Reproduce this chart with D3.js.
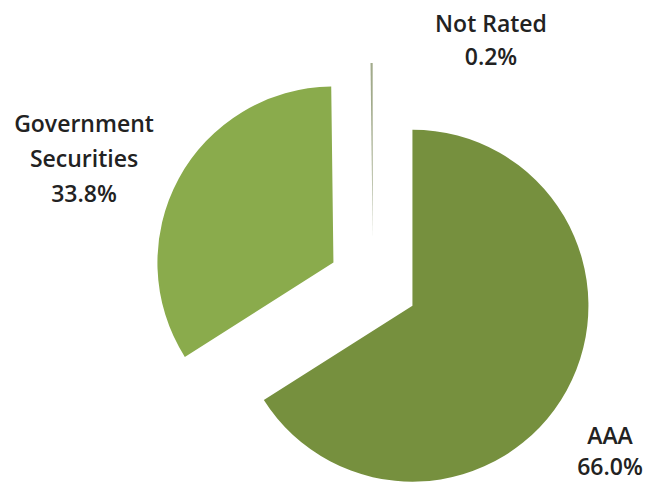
<!DOCTYPE html>
<html>
<head>
<meta charset="utf-8">
<script src="https://cdn.jsdelivr.net/npm/d3@7"></script>
<style>
  html, body { margin: 0; padding: 0; background: #fff; }
  svg { display: block; }
  text { font-family: "Open Sans", "Liberation Sans", sans-serif; fill: #222; }
</style>
</head>
<body>
<svg id="chart" width="648" height="482"></svg>
<script>
// Credit quality breakdown
const categories = ["AAA", "Government Securities", "Not Rated"];
const shares = [66.0, 33.8, 0.2];
const labelLines = [["AAA", "66.0%"], ["Government", "Securities", "33.8%"], ["Not Rated", "0.2%"]];
const colors = ["#76903e", "#8aab4c", "#a2ab8c"];

const width = 648, height = 482;
const cx = 373, cy = 284, radius = 176, explode = 45;

const svg = d3.select("#chart");
const g = svg.append("g").attr("transform", `translate(${cx},${cy})`);

const pie = d3.pie().sort(null).value(d => d.value).startAngle(0).endAngle(2 * Math.PI);
const arc = d3.arc().innerRadius(0).outerRadius(radius);

const data = categories.map((c, i) => ({ name: c, value: shares[i], lines: labelLines[i], color: colors[i] }));
const arcs = pie(data);

// each slice pulled out along its bisector
function offset(d, dist) {
  const a = (d.startAngle + d.endAngle) / 2;
  return [Math.sin(a) * dist, -Math.cos(a) * dist];
}

g.selectAll("path.slice")
  .data(arcs)
  .join("path")
  .attr("class", "slice")
  .attr("d", arc)
  .attr("fill", d => d.data.color)
  .attr("transform", d => {
    const [x, y] = offset(d, explode);
    return `translate(${x},${y})`;
  });

// label anchor points (centre x, first baseline y) in page coordinates
const labelPos = {
  "AAA": [610, 444],
  "Government Securities": [84, 132],
  "Not Rated": [491, 32]
};
const lineStep = { "AAA": 31, "Government Securities": 35, "Not Rated": 33 };

const labels = svg.selectAll("text.lbl")
  .data(data)
  .join("text")
  .attr("class", "lbl")
  .attr("text-anchor", "middle")
  .attr("font-size", 23)
  .attr("font-weight", 600)
  .attr("x", d => labelPos[d.name][0])
  .attr("y", d => labelPos[d.name][1]);

labels.selectAll("tspan")
  .data(d => d.lines.map(l => ({ l, name: d.name })))
  .join("tspan")
  .attr("x", d => labelPos[d.name][0])
  .attr("dy", (d, i) => i === 0 ? 0 : lineStep[d.name])
  .text(d => d.l);
</script>
</body>
</html>
